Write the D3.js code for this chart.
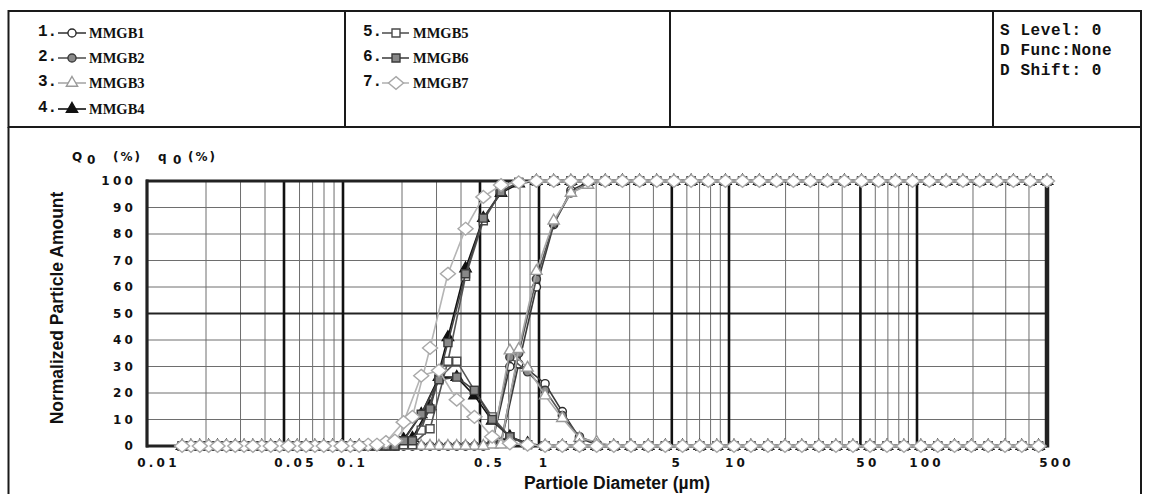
<!DOCTYPE html>
<html>
<head>
<meta charset="utf-8">
<script src="https://cdn.jsdelivr.net/npm/d3@7"></script>
<style>
  html, body { margin: 0; padding: 0; background: #fff; }
  svg { display: block; }
</style>
</head>
<body>
<script>
// ---------------- DATA ----------------
const seriesNames = ["MMGB1", "MMGB2", "MMGB3", "MMGB4", "MMGB5", "MMGB6", "MMGB7"];

// particle size classes (µm)
const sizes = [0.0151, 0.0186, 0.0229, 0.0282, 0.0347, 0.0428, 0.0526, 0.0648, 0.0798, 0.0983,
  0.121, 0.149, 0.184, 0.226, 0.278, 0.343, 0.422, 0.520, 0.640, 0.788,
  0.970, 1.195, 1.472, 1.812, 2.232, 2.748, 3.384, 4.167, 5.13, 6.32,
  7.78, 9.58, 11.8, 14.5, 17.9, 22.0, 27.1, 33.4, 41.1, 50.7,
  62.4, 76.8, 94.6, 116.5, 143.4, 176.6, 217.5, 267.8, 329.8, 406.1,
  500];

// cumulative Q0 (%) at each size class
const cumMMGB1 = [0,0,0,0,0,0,0,0,0,0, 0,0,0,0,0,0,0,0,1,31, 60,83.5,96.5,99.5,100,100,100,100,100,100,
  100,100,100,100,100,100,100,100,100,100, 100,100,100,100,100,100,100,100,100,100, 100];
const cumMMGB2 = [0,0,0,0,0,0,0,0,0,0, 0,0,0,0,0,0,0,0,1.5,35, 63,84,95.5,99,100,100,100,100,100,100,
  100,100,100,100,100,100,100,100,100,100, 100,100,100,100,100,100,100,100,100,100, 100];
const cumMMGB3 = [0,0,0,0,0,0,0,0,0,0, 0,0,0,0,0,0,0,0,0.5,36.5, 66,85,95.5,98.5,100,100,100,100,100,100,
  100,100,100,100,100,100,100,100,100,100, 100,100,100,100,100,100,100,100,100,100, 100];
const cumMMGB4 = [0,0,0,0,0,0,0,0,0,0, 0,0,0.5,3,15,41,67,86,95.5,99, 100,100,100,100,100,100,100,100,100,100,
  100,100,100,100,100,100,100,100,100,100, 100,100,100,100,100,100,100,100,100,100, 100];
const cumMMGB5 = [0,0,0,0,0,0,0,0,0,0, 0,0,0,0.5,6.5,32,64,85,96,99.5, 100,100,100,100,100,100,100,100,100,100,
  100,100,100,100,100,100,100,100,100,100, 100,100,100,100,100,100,100,100,100,100, 100];
const cumMMGB6 = [0,0,0,0,0,0,0,0,0,0, 0,0,0,2,14,39,65,86,96,99.5, 100,100,100,100,100,100,100,100,100,100,
  100,100,100,100,100,100,100,100,100,100, 100,100,100,100,100,100,100,100,100,100, 100];
const cumMMGB7 = [0,0,0,0,0,0,0,0,0,0, 0,0.5,2,11,37,65,82,94,98.5,99.5, 100,100,100,100,100,100,100,100,100,100,
  100,100,100,100,100,100,100,100,100,100, 100,100,100,100,100,100,100,100,100,100, 100];

// frequency q0 (%) for each class interval (between neighbouring sizes)
const freqMMGB1 = [0,0,0,0,0,0,0,0,0,0, 0,0,0,0,0,0,0,1,30,29, 23.5,13,3,0.5,0,0,0,0,0,0,
  0,0,0,0,0,0,0,0,0,0, 0,0,0,0,0,0,0,0,0,0];
const freqMMGB2 = [0,0,0,0,0,0,0,0,0,0, 0,0,0,0,0,0,0,1.5,33.5,28, 21,11.5,3.5,1,0,0,0,0,0,0,
  0,0,0,0,0,0,0,0,0,0, 0,0,0,0,0,0,0,0,0,0];
const freqMMGB3 = [0,0,0,0,0,0,0,0,0,0, 0,0,0,0,0,0,0,0.5,36,29.5, 19,10.5,3,1.5,0,0,0,0,0,0,
  0,0,0,0,0,0,0,0,0,0, 0,0,0,0,0,0,0,0,0,0];
const freqMMGB4 = [0,0,0,0,0,0,0,0,0,0, 0,0.5,2.5,12,26,26,19,9.5,3.5,1, 0,0,0,0,0,0,0,0,0,0,
  0,0,0,0,0,0,0,0,0,0, 0,0,0,0,0,0,0,0,0,0];
const freqMMGB5 = [0,0,0,0,0,0,0,0,0,0, 0,0,0.5,6,25.5,32,21,11,3.5,0.5, 0,0,0,0,0,0,0,0,0,0,
  0,0,0,0,0,0,0,0,0,0, 0,0,0,0,0,0,0,0,0,0];
const freqMMGB6 = [0,0,0,0,0,0,0,0,0,0, 0,0,2,12,25,26,21,10,3.5,0.5, 0,0,0,0,0,0,0,0,0,0,
  0,0,0,0,0,0,0,0,0,0, 0,0,0,0,0,0,0,0,0,0];
const freqMMGB7 = [0,0,0,0,0,0,0,0,0,0, 0.5,1.5,9,26.5,28.5,17.5,11,3.5,1,0.5, 0,0,0,0,0,0,0,0,0,0,
  0,0,0,0,0,0,0,0,0,0, 0,0,0,0,0,0,0,0,0,0];

const cumulative = [cumMMGB1, cumMMGB2, cumMMGB3, cumMMGB4, cumMMGB5, cumMMGB6, cumMMGB7];
const frequency = [freqMMGB1, freqMMGB2, freqMMGB3, freqMMGB4, freqMMGB5, freqMMGB6, freqMMGB7];

const xTickValues = [0.01, 0.05, 0.1, 0.5, 1, 5, 10, 50, 100, 500];
const xTickLabels = ["0.01", "0.05", "0.1", "0.5", "1", "5", "10", "50", "100", "500"];
const yTickValues = [0, 10, 20, 30, 40, 50, 60, 70, 80, 90, 100];
const infoLines = ["S Level: 0", "D Func:None", "D Shift: 0"];

// ---------------- STYLE ----------------
const wideDiamond = {
  draw(ctx, size) {
    const r = Math.sqrt(size) / 2;
    ctx.moveTo(0, -r * 0.85); ctx.lineTo(r, 0); ctx.lineTo(0, r * 0.85); ctx.lineTo(-r, 0); ctx.closePath();
  }
};
const styles = [
  { sym: d3.symbolCircle,   size: 52,  fill: "#fff",  stroke: "#2a2a2a", line: "#3a3a3a" },
  { sym: d3.symbolCircle,   size: 52,  fill: "#8a8a8a", stroke: "#3a3a3a", line: "#555" },
  { sym: d3.symbolTriangle, size: 55,  fill: "#fff",  stroke: "#9a9a9a", line: "#a8a8a8" },
  { sym: d3.symbolTriangle, size: 55,  fill: "#111",  stroke: "#111", line: "#111" },
  { sym: d3.symbolSquare,   size: 64,  fill: "#fff",  stroke: "#4a4a4a", line: "#555" },
  { sym: d3.symbolSquare,   size: 64,  fill: "#888",  stroke: "#3a3a3a", line: "#444" },
  { sym: wideDiamond,       size: 225, fill: "#fff",  stroke: "#a8a8a8", line: "#b5b5b5" }
];
const tickFont = "'DejaVu Sans', sans-serif";

const W = 1149, H = 494;
const svg = d3.select("body").append("svg").attr("width", W).attr("height", H)
  .attr("font-family", "'Liberation Mono', monospace");

// ---------------- SCALES ----------------
const x = d3.scaleLog().domain([0.01, 0.1, 1, 10, 100, 500]).range([147, 343, 539, 729, 917, 1047]);
const y = d3.scaleLinear().domain([0, 100]).range([446, 181]);

// ---------------- FRAMES ----------------
const frame = svg.append("g").attr("stroke", "#1a1a1a").attr("fill", "none");
frame.append("rect").attr("x", 8.5).attr("y", 11).attr("width", 1132.5).attr("height", 116).attr("stroke-width", 2);
[345, 670, 993].forEach(px => frame.append("line").attr("x1", px).attr("x2", px).attr("y1", 11).attr("y2", 127).attr("stroke-width", 2));
frame.append("line").attr("x1", 8.5).attr("x2", 8.5).attr("y1", 127).attr("y2", H).attr("stroke-width", 2);
frame.append("line").attr("x1", 1141).attr("x2", 1141).attr("y1", 127).attr("y2", H).attr("stroke-width", 2);

// ---------------- GRID ----------------
const grid = svg.append("g");
const minorX = [];
[0.01, 0.1, 1, 10, 100].forEach(dec => {
  for (let m = 2; m <= 9; m++) {
    const v = dec * m;
    if (v <= 500 && m !== 5) minorX.push(v);
  }
});
const majorX = [0.05, 0.1, 0.5, 1, 5, 10, 50, 100];
grid.selectAll(".hmin").data(yTickValues.filter(v => v % 50 !== 0)).join("line")
  .attr("x1", x(0.01)).attr("x2", x(500)).attr("y1", d => y(d)).attr("y2", d => y(d))
  .attr("stroke", "#6e6e6e").attr("stroke-width", 1);
grid.selectAll(".vmin").data(minorX).join("line")
  .attr("x1", d => x(d)).attr("x2", d => x(d)).attr("y1", y(0)).attr("y2", y(100))
  .attr("stroke", "#6e6e6e").attr("stroke-width", 1);
grid.append("line").attr("x1", x(0.01)).attr("x2", x(500)).attr("y1", y(50)).attr("y2", y(50))
  .attr("stroke", "#222").attr("stroke-width", 2.2);
grid.selectAll(".vmaj").data(majorX).join("line")
  .attr("x1", d => x(d)).attr("x2", d => x(d)).attr("y1", y(0)).attr("y2", y(100))
  .attr("stroke", "#111").attr("stroke-width", 2.6);
// plot frame
grid.append("line").attr("x1", x(0.01) - 1).attr("x2", x(500)).attr("y1", y(100)).attr("y2", y(100)).attr("stroke", "#222").attr("stroke-width", 3);
grid.append("line").attr("x1", x(0.01) - 1).attr("x2", x(500)).attr("y1", y(0)).attr("y2", y(0)).attr("stroke", "#222").attr("stroke-width", 3);
grid.append("line").attr("x1", x(0.01)).attr("x2", x(0.01)).attr("y1", y(0) + 1.5).attr("y2", y(100) - 1.5).attr("stroke", "#222").attr("stroke-width", 3.2);
grid.append("line").attr("x1", x(500)).attr("x2", x(500)).attr("y1", y(0) + 1.5).attr("y2", y(100) - 1.5).attr("stroke", "#222").attr("stroke-width", 4.5);

// ---------------- AXES (labels) ----------------
const yAxis = d3.axisLeft(y).tickValues(yTickValues).tickSize(0).tickPadding(11);
const gy = svg.append("g").attr("transform", `translate(${x(0.01)},0)`).call(yAxis);
gy.select(".domain").remove();
gy.selectAll("text").attr("font-family", tickFont).attr("font-weight", "bold")
  .attr("font-size", 12).attr("letter-spacing", 3.2).attr("fill", "#111");

const xAxis = d3.axisBottom(x).tickValues(xTickValues).tickSize(0).tickPadding(10)
  .tickFormat((d, i) => xTickLabels[i]);
const gx = svg.append("g").attr("transform", `translate(0,${y(0)})`).call(xAxis);
gx.select(".domain").remove();
gx.selectAll("text").attr("font-family", tickFont).attr("font-weight", "bold")
  .attr("font-size", 12).attr("letter-spacing", 3.2).attr("fill", "#111")
  .attr("dy", "0.95em")
  .attr("dx", (d, i) => 2 * xTickLabels[i].length + 3);

// Q0 / q0 label
const ql = svg.append("text").attr("y", 161).attr("font-weight", "bold").attr("font-size", 12)
  .attr("letter-spacing", 2).attr("fill", "#111").attr("font-family", tickFont);
ql.append("tspan").attr("x", 72).text("Q");
ql.append("tspan").attr("x", 87).attr("dy", 3).text("0");
ql.append("tspan").attr("x", 113).attr("dy", -3).text("(%)");
ql.append("tspan").attr("x", 158).text("q");
ql.append("tspan").attr("x", 173).attr("dy", 3).text("0");
ql.append("tspan").attr("x", 188).attr("dy", -3).text("(%)");

// axis titles
svg.append("text").attr("transform", "translate(57,308) rotate(-90)")
  .attr("text-anchor", "middle").attr("dominant-baseline", "central")
  .attr("font-family", "'Liberation Sans', Arial, sans-serif").attr("font-weight", "bold")
  .attr("font-size", 17.5).attr("fill", "#111").text("Normalized Particle Amount");
svg.append("text").attr("x", 617).attr("y", 483)
  .attr("text-anchor", "middle").attr("dominant-baseline", "central")
  .attr("font-family", "'Liberation Sans', Arial, sans-serif").attr("font-weight", "bold")
  .attr("font-size", 17.5).attr("fill", "#111").text("Partiole Diameter (µm)");

// ---------------- SERIES ----------------
const mids = sizes.slice(0, -1).map((s, k) => Math.sqrt(s * sizes[k + 1]));
const line = d3.line().x(d => x(d[0])).y(d => y(d[1]));
const plot = svg.append("g");
seriesNames.forEach((name, si) => {
  const st = styles[si];
  const cPts = sizes.map((s, i) => [s, cumulative[si][i]]);
  const fPts = mids.map((m, k) => [m, frequency[si][k]]);
  const g = plot.append("g");
  [fPts, cPts].forEach(pts => {
    g.append("path").attr("d", line(pts)).attr("fill", "none")
      .attr("stroke", st.line).attr("stroke-width", 1.6);
  });
  const sym = d3.symbol().type(st.sym).size(st.size);
  g.selectAll(".m").data(fPts.concat(cPts)).join("path")
    .attr("transform", d => `translate(${x(d[0])},${y(d[1])})`)
    .attr("d", sym).attr("fill", st.fill).attr("stroke", st.stroke).attr("stroke-width", 1.4);
});

// ---------------- LEGEND ----------------
const legendPos = [
  { nx: 38, lx1: 58, lx2: 86, mx: 72, tx: 89, y: 32 },
  { nx: 38, lx1: 58, lx2: 86, mx: 72, tx: 89, y: 57 },
  { nx: 38, lx1: 58, lx2: 86, mx: 72, tx: 89, y: 82 },
  { nx: 38, lx1: 58, lx2: 86, mx: 72, tx: 89, y: 108 },
  { nx: 363, lx1: 382, lx2: 409, mx: 396, tx: 413, y: 32 },
  { nx: 363, lx1: 382, lx2: 409, mx: 396, tx: 413, y: 57 },
  { nx: 363, lx1: 382, lx2: 409, mx: 396, tx: 413, y: 82 }
];
seriesNames.forEach((name, si) => {
  const p = legendPos[si], st = styles[si];
  const g = svg.append("g");
  g.append("text").attr("x", p.nx).attr("y", p.y).attr("dominant-baseline", "central")
    .attr("font-family", "'Liberation Mono', monospace").attr("font-weight", "bold")
    .attr("font-size", 16).attr("fill", "#111").text((si + 1) + ".");
  g.append("line").attr("x1", p.lx1).attr("x2", p.lx2).attr("y1", p.y + 1).attr("y2", p.y + 1)
    .attr("stroke", st.line).attr("stroke-width", 1.6);
  g.append("path").attr("transform", `translate(${p.mx},${p.y + 1})`)
    .attr("d", d3.symbol().type(st.sym).size(st.size)()).attr("fill", st.fill)
    .attr("stroke", st.stroke).attr("stroke-width", 1.4);
  g.append("text").attr("x", p.tx).attr("y", p.y + 1).attr("dominant-baseline", "central")
    .attr("font-family", "'Liberation Serif', serif").attr("font-weight", "bold")
    .attr("font-size", 14.5).attr("fill", "#111").text(name);
});

svg.append("g").selectAll("text").data(infoLines).join("text")
  .attr("x", 1000).attr("y", (d, i) => 31 + i * 20).attr("dominant-baseline", "central")
  .attr("font-family", "'Liberation Mono', monospace").attr("font-weight", "bold")
  .attr("font-size", 16).attr("letter-spacing", 0.6).attr("fill", "#111").text(d => d);
</script>
</body>
</html>
